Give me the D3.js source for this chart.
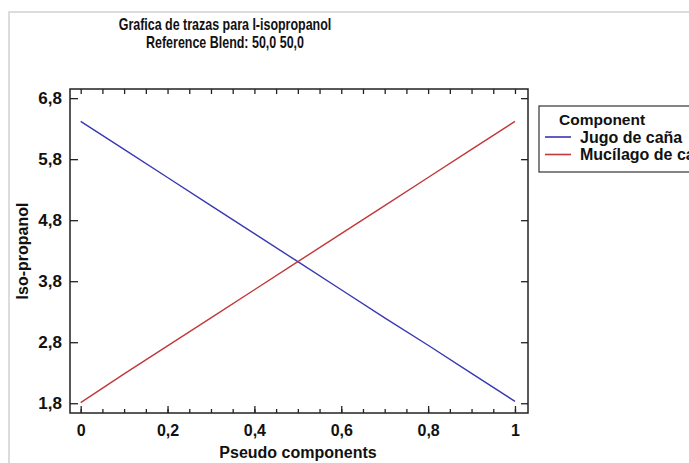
<!DOCTYPE html>
<html>
<head>
<meta charset="utf-8">
<script src="https://cdn.jsdelivr.net/npm/d3@7"></script>
<style>
  body { margin: 0; background: #fff; }
  text { font-family: "Liberation Sans", Arial, sans-serif; font-weight: bold; fill: #111; }
</style>
</head>
<body>
<svg id="chart" width="689" height="463"></svg>
<script>
// data
var titleLines = ["Grafica de trazas para I-isopropanol", "Reference Blend: 50,0 50,0"];
var xTicks = [0, 0.2, 0.4, 0.6, 0.8, 1];
var yTicks = [1.8, 2.8, 3.8, 4.8, 5.8, 6.8];
var pseudo = [0, 0.1, 0.2, 0.3, 0.4, 0.5, 0.6, 0.7, 0.8, 0.9, 1];
var jugoValues = [6.42, 5.96, 5.50, 5.04, 4.58, 4.12, 3.66, 3.20, 2.75, 2.29, 1.83];
var mucilagoValues = [1.81, 2.28, 2.74, 3.20, 3.66, 4.12, 4.58, 5.04, 5.50, 5.96, 6.42];
var seriesNames = ["Jugo de caña", "Mucílago de cacao"];
var seriesColors = ["#3838b4", "#c23838"];

var svg = d3.select("#chart");

// frame around the whole graphic
svg.append("path")
  .attr("d", "M9,470 L9,12 L700,12")
  .style("fill", "none")
  .style("stroke", "#dcdcdc")
  .style("stroke-width", 2);

var plot = { left: 70, right: 528, top: 89, bottom: 413 };

var x = d3.scaleLinear().domain([-0.0246, 1.03]).range([plot.left, plot.right]);
var y = d3.scaleLinear().domain([1.64, 6.95]).range([plot.bottom, plot.top]);

var comma = function (d) { return String(d).replace(".", ","); };
var commaY = function (d) { return d3.format(".1f")(d).replace(".", ","); };

var minorX = d3.range(0, 1.0001, 0.05);

// plot box
svg.append("rect")
  .attr("x", plot.left)
  .attr("y", plot.top)
  .attr("width", plot.right - plot.left)
  .attr("height", plot.bottom - plot.top)
  .style("fill", "none")
  .style("stroke", "#222")
  .style("stroke-width", 1.5);

function styleAxis(size) {
  return function (g) {
    g.select(".domain").remove();
    g.selectAll("line").style("stroke", "#222").style("stroke-width", 1.3);
    g.selectAll("text").style("font-size", size + "px").style("font-family", null);
  };
}

// bottom axis
svg.append("g")
  .attr("transform", "translate(0," + plot.bottom + ")")
  .call(d3.axisBottom(x).tickValues(minorX).tickSize(-4).tickFormat(""))
  .call(styleAxis(16));
svg.append("g")
  .attr("transform", "translate(0," + plot.bottom + ")")
  .call(d3.axisBottom(x).tickValues(xTicks).tickSize(-7).tickPadding(12).tickFormat(comma))
  .call(styleAxis(16));

// top axis
svg.append("g")
  .attr("transform", "translate(0," + plot.top + ")")
  .call(d3.axisTop(x).tickValues(minorX).tickSize(-5).tickFormat(""))
  .call(styleAxis(16));

// left axis
svg.append("g")
  .attr("transform", "translate(" + plot.left + ",0)")
  .call(d3.axisLeft(y).tickValues(yTicks).tickSize(-8).tickPadding(8).tickFormat(commaY))
  .call(styleAxis(17));

// right axis
svg.append("g")
  .attr("transform", "translate(" + plot.right + ",0)")
  .call(d3.axisRight(y).tickValues(yTicks).tickSize(-7).tickFormat(""))
  .call(styleAxis(16));

// lines
var line = d3.line()
  .x(function (d) { return x(d[0]); })
  .y(function (d) { return y(d[1]); });

[jugoValues, mucilagoValues].forEach(function (vals, i) {
  svg.append("path")
    .datum(pseudo.map(function (p, j) { return [p, vals[j]]; }))
    .attr("d", line)
    .style("fill", "none")
    .style("stroke", seriesColors[i])
    .style("stroke-width", 1.4);
});

// titles, condensed like the original narrow face
svg.selectAll("text.title")
  .data(titleLines)
  .enter().append("text")
  .attr("class", "title")
  .attr("transform", function (d, i) { return "translate(225," + (30 + i * 18) + ") scale(0.78,1)"; })
  .attr("text-anchor", "middle")
  .style("font-size", "16px")
  .text(function (d) { return d; });

svg.append("text")
  .attr("x", 298)
  .attr("y", 458)
  .attr("text-anchor", "middle")
  .style("font-size", "16px")
  .text("Pseudo components");

svg.append("text")
  .attr("transform", "translate(28," + (plot.top + plot.bottom) / 2 + ") rotate(-90)")
  .attr("text-anchor", "middle")
  .style("font-size", "16px")
  .text("Iso-propanol");

// legend
var legend = svg.append("g").attr("transform", "translate(539,106)");
legend.append("rect")
  .attr("width", 170)
  .attr("height", 66)
  .style("fill", "#fff")
  .style("stroke", "#333")
  .style("stroke-width", 1.2);
legend.append("text")
  .attr("x", 20)
  .attr("y", 19)
  .style("font-size", "15.5px")
  .text("Component");
seriesNames.forEach(function (name, i) {
  var ly = 31 + i * 17.5;
  legend.append("line")
    .attr("x1", 6).attr("x2", 32)
    .attr("y1", ly).attr("y2", ly)
    .style("stroke", seriesColors[i])
    .style("stroke-width", 1.6);
  legend.append("text")
    .attr("x", 41)
    .attr("y", ly + 5.5)
    .style("font-size", "16px")
    .text(name);
});
</script>
</body>
</html>
